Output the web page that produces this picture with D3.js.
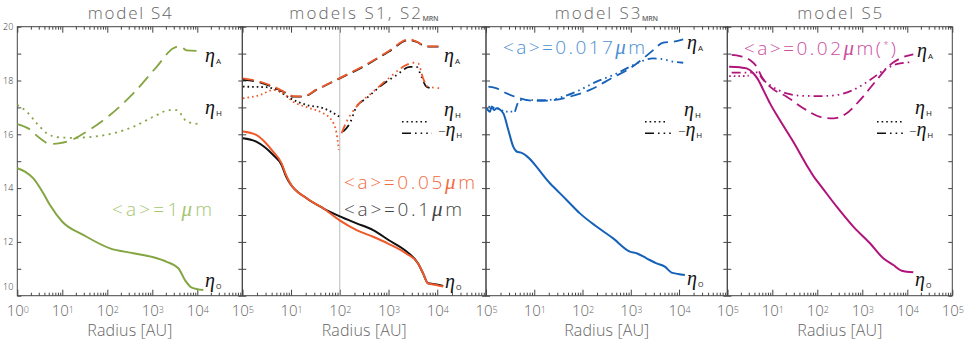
<!DOCTYPE html>
<html><head><meta charset="utf-8">
<script src="https://cdn.jsdelivr.net/npm/d3@7"></script>
<style>
body{margin:0;background:#fff;}
svg{display:block;}
text{font-family:"Open Sans",Lato,"Liberation Sans",sans-serif;font-weight:300;}
</style></head><body>
<svg id="chart" width="969" height="352"></svg>
<script>
// ---------------- DATA ----------------
const xTickExponents = [0,1,2,3,4,5];
const yTickLabels = [10,12,14,16,18,20];
const panelTitles = ["model S4","models S1, S2","model S3","model S5"];
const panelTitleSubs = ["","MRN","MRN",""];
const grainLabels = ["<a>=1","<a>=0.05","<a>=0.1","<a>=0.017","<a>=0.02"];

// model S4
const s4R_O = [1,1.48,2.27,3.78,5.33,10,29.3,115,378,1050,2090,3800,5330,7520,13600];
const s4E_O = [14.74,14.61,14.36,13.81,13.37,12.75,12.26,11.76,11.58,11.43,11.26,11.02,10.58,10.30,10.21];
const s4R_A = [1,1.75,3.19,5.33,8.89,16.2,34.8,115,378,1250,2930,4130,5810,9700];
const s4E_A = [16.38,16.22,15.85,15.64,15.67,15.79,16.10,16.72,17.52,18.51,19.20,19.28,19.12,19.10];
const s4R_H = [1,1.62,2.7,4.5,8.15,16.2,48.9,136,378,1050,2470,3480,4500,5810,11500];
const s4E_H = [17.09,16.84,16.41,16.04,15.89,15.87,15.91,16.04,16.28,16.65,16.90,16.90,16.72,16.47,16.38];

// models S1 (black) and S2_MRN (orange)
const s12R_A = [1.03,1.97,4.32,6.92,11.1,17.8,33.1,100,355,1000,2630,3720,6030,13200];
const s1E_A = [18.02,17.96,17.75,17.58,17.40,17.40,17.65,18.08,18.58,19.07,19.51,19.44,19.26,19.26];
const s2E_A = [18.08,17.99,17.78,17.60,17.42,17.41,17.66,18.09,18.60,19.09,19.53,19.45,19.27,19.27];
const s1R_H = [1.03,3.16,5.07,9.5,20.9,45.7,85.9,98.6];
const s1E_H = [17.77,17.75,17.65,17.34,17.09,16.97,16.72,16.65];
const s1R_Hn = [117,161,221,354,664,1460,2730,3750,4740,6010,8200];
const s1E_Hn = [16.10,16.41,17.03,17.34,17.77,18.20,18.51,18.51,18.14,17.77,17.71];
const s2R_H = [1.03,2.31,4.32,6.92,11.1,24.4,45.7,67.6,85.9,95.5];
const s2E_H = [17.34,17.46,17.65,17.52,17.21,16.97,16.78,16.53,16.04,15.42];
const s2R_Hn = [109,138,221,483,1000,2340,3190,4050,5120,6470,12200];
const s2E_Hn = [16.04,16.47,17.03,17.58,18.08,18.58,18.66,18.64,18.08,17.77,17.71];
const s12R_O = [1.03,1.97,4.32,6.41,7.85,9.48,20.9,45.7,97.7,221,483,1000,2340,4050,5120,6470,9640,13200];
const s1E_O = [15.85,15.72,15.23,14.86,14.45,14.18,13.62,13.25,12.96,12.69,12.44,12.07,11.64,11.20,10.83,10.46,10.42,10.36];
const s2E_O = [16.10,15.97,15.35,14.92,14.50,14.20,13.62,13.25,12.81,12.44,12.19,11.93,11.56,11.20,10.83,10.46,10.40,10.34];

// model S3_MRN
const s3R_O = [1.03,1.21,1.31,1.47,1.67,2.28,2.90,3.67,4.39,5.31,21.1,46.8,88.3,195,432,957,1320,2120,3420,5080,7000,9570,13200];
const s3E_O = [16.97,16.84,17.03,16.90,16.97,16.78,16.16,15.54,15.35,15.32,14.18,13.56,13.06,12.57,12.13,11.64,11.58,11.39,11.20,11.08,10.86,10.81,10.77];
const s3R_A = [1.12,1.67,2.69,5.06,11.2,24.7,54.8,142,432,957,1810,2910,4690,7550,12200];
const s3E_A = [17.77,17.71,17.52,17.34,17.24,17.27,17.40,17.65,18.12,18.45,18.82,19.13,19.41,19.44,19.53];
const s3R_H = [1.12,1.67,2.69,3.98];
const s3E_H = [17.03,16.97,16.84,16.84];
const s3R_Hn = [3.98,5.06,9.53,18.1,39.8,88.3,195,432,957,1810,2910,4690,7550,12200];
const s3E_Hn = [16.84,17.27,17.27,17.27,17.40,17.65,17.96,18.20,18.51,18.74,18.82,18.79,18.70,18.66];

// model S5
const s5R_O = [1.1,1.91,2.7,3.78,4.89,6.31,8.89,14.8,29.3,58.1,88.9,115,270,631,1480,2930,4890,7520,13600];
const s5E_O = [18.51,18.49,18.45,18.27,18.02,17.65,17.15,16.52,15.72,14.85,14.36,14.12,13.31,12.57,11.95,11.39,11.14,10.93,10.87];
const s5R_A = [1.25,1.91,3.19,4.5,5.81,8.89,20.9,48.9,115,227,450,889,2090,4130,6890,13600];
const s5E_A = [18.95,18.91,18.76,18.51,18.14,17.77,17.40,16.97,16.65,16.59,16.78,17.27,18.02,18.58,18.82,18.97];
const s5R_H = [1.1,1.8,3.0];
const s5E_H = [18.16,18.16,18.18];
const s5R_Hn = [1.25,3.19,4.5,6.31,8.89,20.9,48.9,115,270,631,1480,3480,6890,13600];
const s5E_Hn = [18.29,18.29,18.30,18.02,17.83,17.52,17.43,17.42,17.46,17.65,18.02,18.45,18.64,18.68];

// ---------------- LAYOUT / STYLE ----------------
const edges = [17.3,242.3,486,727.3,952.3];
const yTop = 26.7, yBot = 295.7;
const C = {green:"#84a542", greenT:"#a6c571", orange:"#f0592a", orangeT:"#f26c40",
           blue:"#1561b8", blueT:"#4d8fd3", mag:"#b0137a", magT:"#cb4da0", black:"#111"};
const dash = {solid:null, dashed:"11,6", dashed1:"14,7", dotted:"1.6,3", dotted1:"2,4.5", dashdot:"9,4,1.6,4,1.6,4,1.6,4"};
const greekFont = "'Liberation Serif','DejaVu Serif',serif";

const svg = d3.select("#chart");
const y = d3.scaleLinear().domain([10,20]).range([yBot,yTop]);
const xs = [0,1,2,3].map(i => d3.scaleLog().domain([1,1e5]).range([edges[i],edges[i+1]]));

const majors = xTickExponents.map(e => 10**e);
const minors = [];
for (let k=0;k<5;k++) for (let m=2;m<10;m++) minors.push(m*10**k);

function zip(r,v){ return r.map((d,i)=>[d,v[i]]); }

const series = [
  [0,s4R_O,s4E_O,C.green,"solid"],[0,s4R_A,s4E_A,C.green,"dashed1"],[0,s4R_H,s4E_H,C.green,"dotted1"],
  [1,s12R_A,s1E_A,C.black,"dashed"],[1,s12R_A,s2E_A,C.orange,"dashed"],
  [1,s1R_H,s1E_H,C.black,"dotted"],[1,s1R_Hn,s1E_Hn,C.black,"dashdot"],
  [1,s2R_H,s2E_H,C.orange,"dotted"],[1,s2R_Hn,s2E_Hn,C.orange,"dashdot"],
  [1,s12R_O,s1E_O,C.black,"solid"],[1,s12R_O,s2E_O,C.orange,"solid"],
  [2,s3R_O,s3E_O,C.blue,"solid"],[2,s3R_A,s3E_A,C.blue,"dashed"],
  [2,s3R_H,s3E_H,C.blue,"dotted"],[2,s3R_Hn,s3E_Hn,C.blue,"dashdot"],
  [3,s5R_O,s5E_O,C.mag,"solid"],[3,s5R_A,s5E_A,C.mag,"dashed"],
  [3,s5R_H,s5E_H,C.mag,"dotted"],[3,s5R_Hn,s5E_Hn,C.mag,"dashdot"]
];

const axColor = "#444";
const txtColor = "#666";
function clean(g){ g.select(".domain").remove(); g.selectAll(".tick line").attr("stroke",axColor); }

xs.forEach((x,i) => {
  const g = svg.append("g");
  const L = edges[i], R = edges[i+1];
  g.append("g").attr("transform",`translate(0,${yTop})`).call(d3.axisBottom(x).tickValues(majors).tickSize(6).tickFormat("")).call(clean);
  g.append("g").attr("transform",`translate(0,${yTop})`).call(d3.axisBottom(x).tickValues(minors).tickSize(3).tickFormat("")).call(clean);
  g.append("g").attr("transform",`translate(0,${yBot})`).call(d3.axisTop(x).tickValues(majors).tickSize(6).tickFormat("")).call(clean);
  g.append("g").attr("transform",`translate(0,${yBot})`).call(d3.axisTop(x).tickValues(minors).tickSize(3).tickFormat("")).call(clean);
  g.append("g").attr("transform",`translate(${L},0)`).call(d3.axisRight(y).tickValues(d3.range(10,21)).tickSize(4).tickFormat("")).call(clean);
  g.append("g").attr("transform",`translate(${R},0)`).call(d3.axisLeft(y).tickValues(d3.range(10,21)).tickSize(4).tickFormat("")).call(clean);
  g.append("rect").attr("x",L).attr("y",yTop).attr("width",R-L).attr("height",yBot-yTop)
    .attr("fill","none").attr("stroke",axColor).attr("stroke-width",1);
  const exps = i===0 ? xTickExponents : xTickExponents.slice(1);
  g.append("g").attr("transform",`translate(0,${yBot})`)
    .call(d3.axisBottom(x).tickValues(exps.map(e=>10**e)).tickSize(0).tickPadding(10).tickFormat(""))
    .call(a => {
      a.select(".domain").remove();
      a.attr("font-family",null).attr("font-size",15);
      a.selectAll(".tick text").attr("fill",txtColor).each(function(d){
        const t = d3.select(this); t.text("10");
        t.append("tspan").attr("dy","-0.42em").attr("font-size","9px").text(Math.round(Math.log10(d)));
      });
    });
  g.append("text").attr("x",(L+R)/2 - 42.5).attr("y",336).attr("font-size",16).attr("fill",txtColor)
    .attr("textLength",85).attr("lengthAdjust","spacing").text("Radius [AU]");
  const tw = [84,131.7,85.7,85][i];
  const subW = panelTitleSubs[i] ? 18 : 0;
  const tx = (L+R)/2 - (tw+subW)/2;
  g.append("text").attr("x",tx).attr("y",19).attr("font-size",17).attr("fill",txtColor)
    .attr("textLength",tw).attr("lengthAdjust","spacing").text(panelTitles[i]);
  if (panelTitleSubs[i]) g.append("text").attr("x",tx+tw+1.5).attr("y",20.5).attr("font-size",7).style("font-weight","600")
    .attr("fill",txtColor).attr("textLength",16).attr("lengthAdjust","spacing").text(panelTitleSubs[i]);
});

svg.append("g").attr("transform",`translate(${edges[0]},0)`)
  .call(d3.axisLeft(y).tickValues(yTickLabels).tickSize(0).tickPadding(4))
  .call(a => {
    a.select(".domain").remove();
    a.attr("font-family",null).attr("font-size",9);
    a.selectAll(".tick text").attr("fill","#333");
    a.selectAll(".tick").filter(d=>d===10).select("text").attr("dy","-0.7em");
  });

svg.append("line").attr("x1",xs[1](100)).attr("x2",xs[1](100)).attr("y1",yTop).attr("y2",yBot)
  .attr("stroke","#bbb").attr("stroke-width",1);

series.forEach(([p,r,v,col,st]) => {
  const x = xs[p];
  const line = d3.line().x(d=>x(d[0])).y(d=>y(d[1])).curve(d3.curveMonotoneX);
  svg.append("path").attr("d",line(zip(r,v))).attr("fill","none").attr("stroke",col)
    .attr("stroke-width",st==="solid"?2:1.8).attr("stroke-dasharray",dash[st]);
});

function eta(x,yb,sub,neg){
  const t = svg.append("text").attr("x",neg?x-6:x).attr("y",yb).attr("fill","#111");
  if (neg) t.append("tspan").attr("font-size",13).text("−");
  t.append("tspan").style("font-family",greekFont).attr("font-style","italic").style("font-weight","400").attr("font-size",20).text("η");
  t.append("tspan").attr("font-size",sub==="O"?7:8).style("font-weight","400").attr("dx",1).attr("dy",2).text(sub);
}
[[205,62,"A"],[205,114,"H"],[205,287,"O"],
 [444,62,"A"],[444,116,"H"],[444,135.5,"H",true],[445,288,"O"],
 [687,49,"A"],[684,116,"H"],[684,135.5,"H",true],[687,285,"O"],
 [917,57,"A"],[915,114,"H"],[915,136,"H",true],[915,286,"O"]].forEach(a=>eta(...a));

[[402,427,432],[645,668,672],[877,902,905]].forEach(([a,b,c])=>{
  svg.append("line").attr("x1",a).attr("x2",b).attr("y1",121.7).attr("y2",121.7).attr("stroke",C.black).attr("stroke-width",1.4).attr("stroke-dasharray",dash.dotted);
  svg.append("line").attr("x1",a).attr("x2",c).attr("y1",133.3).attr("y2",133.3).attr("stroke",C.black).attr("stroke-width",1.4).attr("stroke-dasharray",dash.dashdot);
});

function grain(x,yb,len,label,col,star){
  const t = svg.append("text").attr("x",x).attr("y",yb).attr("font-size",19).attr("fill",col)
    .attr("textLength",len).attr("lengthAdjust","spacing");
  t.append("tspan").text(label);
  t.append("tspan").style("font-family",greekFont).attr("font-style","italic").attr("font-size",21).text("μ");
  t.append("tspan").text("m");
  if (star){ t.append("tspan").text("("); t.append("tspan").attr("font-size",9).attr("dy",-7).text("*"); t.append("tspan").attr("dy",7).text(")"); }
}
grain(112,216,100,grainLabels[0],C.greenT);
grain(344,189,131,grainLabels[1],C.orangeT);
grain(344,216,118,grainLabels[2],"#444");
grain(503,54,142,grainLabels[3],C.blueT);
grain(744,55,152,grainLabels[4],C.magT,true);
</script>
</body></html>
